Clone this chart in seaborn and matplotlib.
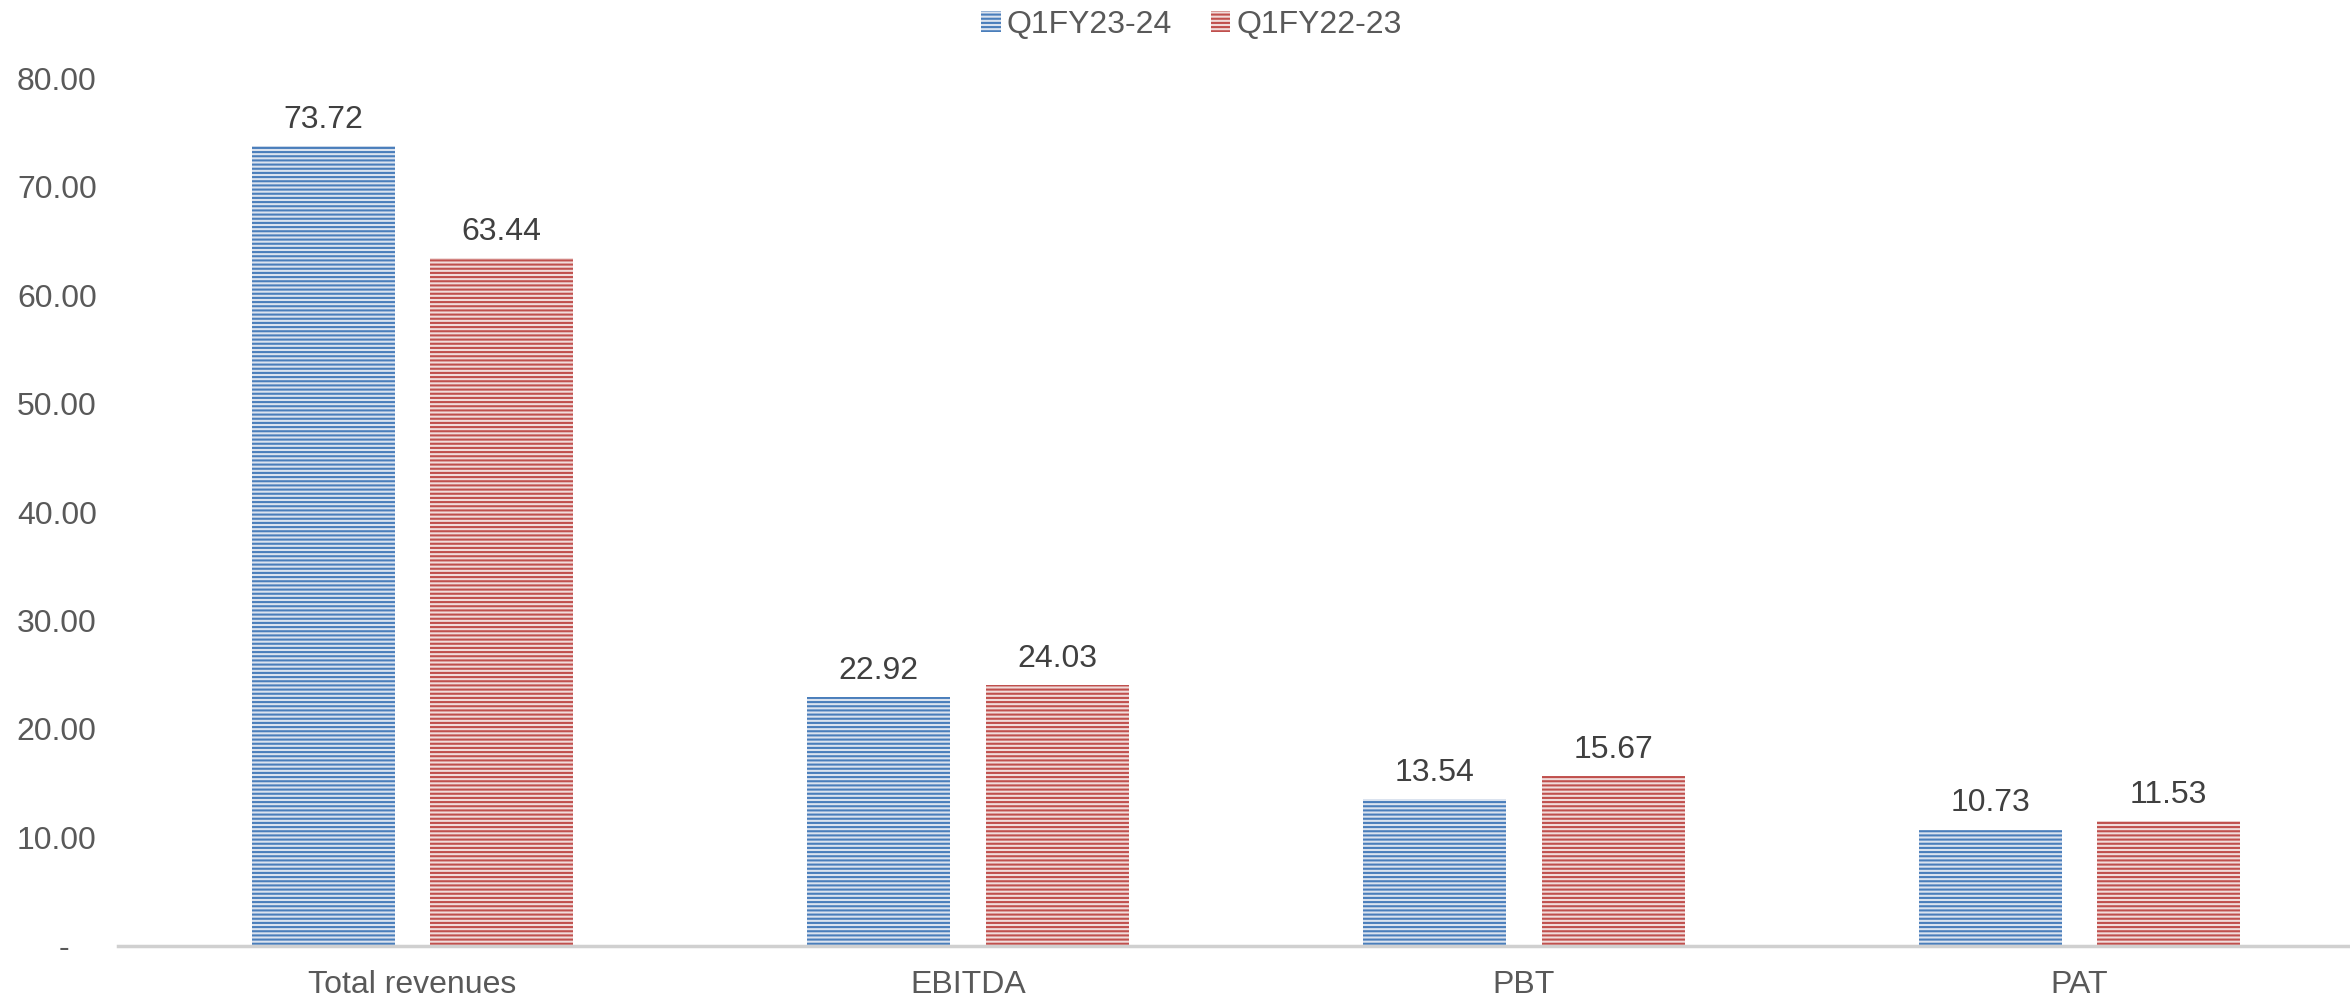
import matplotlib
matplotlib.use("Agg")
import matplotlib.pyplot as plt
from matplotlib.patches import Patch
import pandas as pd
import seaborn as sns

# Data
CATEGORIES = ["Total revenues", "EBITDA", "PBT", "PAT"]
SERIES = ["Q1FY23-24", "Q1FY22-23"]
Q1FY23_24 = [73.72, 22.92, 13.54, 10.73]
Q1FY22_23 = [63.44, 24.03, 15.67, 11.53]
Y_TICKS = [0, 10, 20, 30, 40, 50, 60, 70, 80]

STRIPE = {"Q1FY23-24": "#4a7ebb", "Q1FY22-23": "#c0504d"}
LIGHT = {"Q1FY23-24": "#dbe3ef", "Q1FY22-23": "#f1dcdb"}

df = pd.DataFrame({
    "category": CATEGORIES * 2,
    "value": Q1FY23_24 + Q1FY22_23,
    "series": [SERIES[0]] * 4 + [SERIES[1]] * 4,
})

sns.set_style("white")
plt.rcParams["font.family"] = ["Liberation Sans", "DejaVu Sans"]
plt.rcParams["hatch.linewidth"] = 1.5

fig = plt.figure(figsize=(23.5, 10.01), dpi=100)
ax = fig.add_axes([0.05, 0.055, 0.95, 0.867])

sns.barplot(data=df, x="category", y="value", hue="series", order=CATEGORIES,
            hue_order=SERIES, palette=STRIPE, width=0.643, gap=0.2,
            legend=False, ax=ax)

# Striped fill: light face with horizontal lines in series colour
for container, name in zip(ax.containers, SERIES):
    for bar in container:
        bar.set_facecolor(LIGHT[name])
        bar.set_edgecolor(STRIPE[name])
        bar.set_hatch("----")
        bar.set_linewidth(0)
    ax.bar_label(container, fmt="%.2f", padding=8, fontsize=23, color="#404040")

ax.set_ylim(0, 80)
ax.set_xlim(-0.531, 3.487)
ax.set_yticks(Y_TICKS)
ax.set_yticklabels(["-   "] + [f"{t:.2f}" for t in Y_TICKS[1:]])
ax.tick_params(axis="y", length=0, pad=15, labelsize=23, labelcolor="#595959")
ax.tick_params(axis="x", length=0, pad=17, labelsize=23, labelcolor="#595959")
ax.set_xlabel("")
ax.set_ylabel("")

for side in ["top", "right", "left"]:
    ax.spines[side].set_visible(False)
ax.spines["bottom"].set_color("#d0d0d0")
ax.spines["bottom"].set_linewidth(2.5)

handles = [Patch(facecolor=LIGHT[s], edgecolor=STRIPE[s], hatch="----",
                 linewidth=0) for s in SERIES]
fig.legend(handles, SERIES, loc="upper center", bbox_to_anchor=(0.507, 1.019),
           ncol=2, frameon=False, fontsize=23, labelcolor="#595959",
           handlelength=0.6, handleheight=0.6, handletextpad=0.2,
           columnspacing=1.2)

fig.savefig("out.png", dpi=100)
plt.close(fig)
